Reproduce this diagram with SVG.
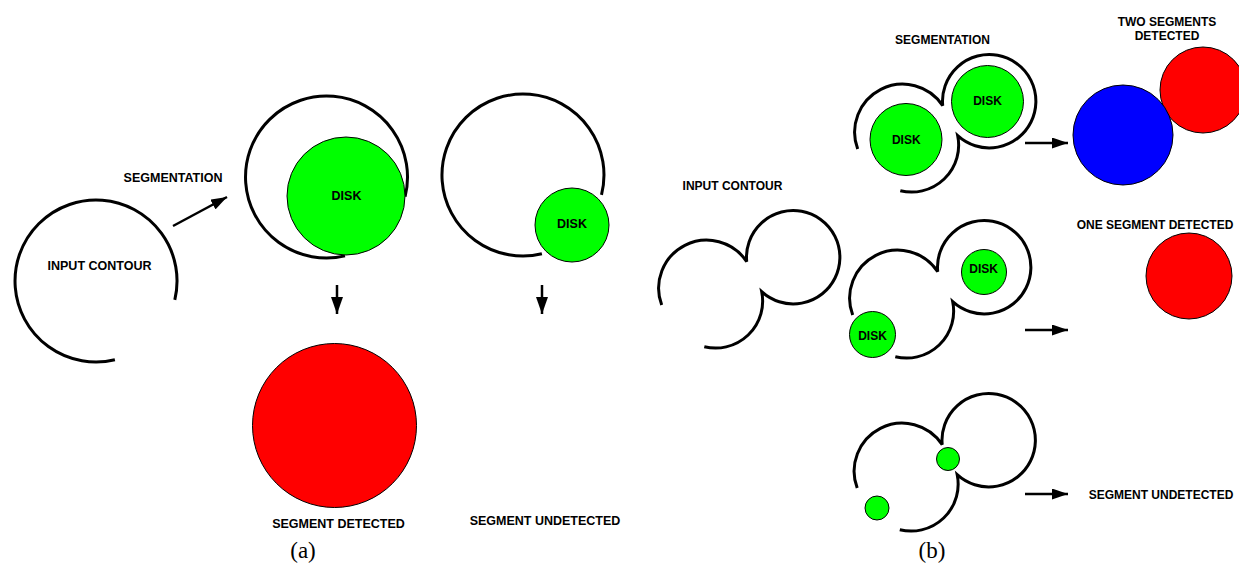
<svg xmlns="http://www.w3.org/2000/svg" width="1239" height="564" viewBox="0 0 1239 564">
<style>
.c{fill:none;stroke:#000;stroke-width:3;stroke-linecap:butt}
.g{fill:#00ff00;stroke:#000;stroke-width:1}
.r{fill:#ff0000;stroke:#000;stroke-width:1}
.b{fill:#0000ff;stroke:#000;stroke-width:1}
.t{font-family:"Liberation Sans",Arial,sans-serif;font-weight:bold;font-size:12.5px;fill:#000;text-anchor:middle}
.s{font-size:12px}
.cap{font-family:"Liberation Serif","Times New Roman",serif;font-size:23px;fill:#000;text-anchor:middle}
.a{stroke:#000;stroke-width:2.5;fill:none}
</style>
<defs>
<marker id="ah" viewBox="0 0 16 11" refX="16" refY="5.5" markerWidth="16" markerHeight="11" markerUnits="userSpaceOnUse" orient="auto">
<path d="M0,0 L16,5.5 L0,11 z" fill="#000"/>
</marker>
<marker id="ahd" viewBox="0 0 17 12" refX="17" refY="6" markerWidth="17" markerHeight="12" markerUnits="userSpaceOnUse" orient="auto">
<path d="M0,0 L17,6 L0,12 z" fill="#000"/>
</marker>
<path id="twin" d="M 661.7 305 A 48 48 0 0 1 746.7 261.7 A 46.7 46.7 0 1 1 761.7 291.7 A 47 47 0 0 1 704.3 346.7"/>
</defs>
<rect width="1239" height="564" fill="#fff"/>

<g id="connectors">
<line class="a" x1="173" y1="226" x2="227" y2="197" marker-end="url(#ah)"/>
<line class="a" x1="337" y1="285" x2="337" y2="314" marker-end="url(#ahd)" stroke-width="3"/>
<line class="a" x1="542" y1="285" x2="542" y2="314" marker-end="url(#ahd)" stroke-width="3"/>
<line class="a" x1="1025" y1="143" x2="1068" y2="143" marker-end="url(#ah)"/>
<line class="a" x1="1025" y1="330" x2="1068" y2="330" marker-end="url(#ah)"/>
<line class="a" x1="1025" y1="494" x2="1068" y2="494" marker-end="url(#ah)"/>
</g>

<g id="a-input">
<path class="c" d="M 114.9 359.8 A 81 81 0 1 1 174.8 299.9"/>
<text class="t" x="99.5" y="269.5">INPUT CONTOUR</text>
</g>
<g id="a-segmentation-label">
<text class="t" x="173" y="181.5">SEGMENTATION</text>
</g>
<g id="a-seg1">
<path class="c" d="M 345 255.9 A 81 81 0 1 1 405.1 196.7"/>
<circle class="g" cx="346" cy="196" r="59"/>
<text class="t" x="346.5" y="199.5">DISK</text>
</g>
<g id="a-seg2">
<path class="c" d="M 541.9 253.8 A 81 81 0 1 1 601.5 194.9"/>
<circle class="g" cx="572" cy="225" r="37"/>
<text class="t" x="572" y="228">DISK</text>
</g>
<g id="a-detected">
<circle class="r" cx="334.5" cy="425.5" r="82"/>
<text class="t" x="338.5" y="527.5">SEGMENT DETECTED</text>
</g>
<g id="a-undetected">
<text class="t" x="545" y="524.5">SEGMENT UNDETECTED</text>
</g>
<g id="label-a"><text class="cap" x="303" y="558">(a)</text></g>

<g id="b-input">
<use href="#twin" class="c"/>
<text class="t s" x="732.5" y="189.5">INPUT CONTOUR</text>
</g>
<g id="b-seg-top">
<text class="t s" x="942.5" y="44">SEGMENTATION</text>
<use href="#twin" class="c" transform="translate(196,-156)"/>
<circle class="g" cx="906" cy="139.5" r="36"/>
<text class="t s" x="906.3" y="143.5">DISK</text>
<circle class="g" cx="987.5" cy="101.5" r="36"/>
<text class="t s" x="987.5" y="105">DISK</text>
</g>
<g id="b-two-detected">
<text class="t s" x="1167" y="25.5">TWO SEGMENTS</text>
<text class="t s" x="1167" y="39.5">DETECTED</text>
<circle class="r" cx="1203" cy="90" r="43"/>
<circle class="b" cx="1123" cy="135" r="50"/>
</g>
<g id="b-seg-mid">
<use href="#twin" class="c" transform="translate(191,10)"/>
<circle class="g" cx="984" cy="272" r="22.5"/>
<text class="t s" x="983.7" y="272.5">DISK</text>
<circle class="g" cx="872.5" cy="334.5" r="23"/>
<text class="t s" x="872.5" y="339.5">DISK</text>
</g>
<g id="b-one-detected">
<text class="t s" x="1155" y="228.5">ONE SEGMENT DETECTED</text>
<circle class="r" cx="1189" cy="276" r="43"/>
</g>
<g id="b-seg-bottom">
<use href="#twin" class="c" transform="translate(195.5,183)"/>
<circle class="g" cx="948" cy="459" r="11.5"/>
<circle class="g" cx="877" cy="508" r="12"/>
</g>
<g id="b-undetected">
<text class="t s" x="1161" y="498.5">SEGMENT UNDETECTED</text>
</g>
<g id="label-b"><text class="cap" x="932" y="558">(b)</text></g>
</svg>
